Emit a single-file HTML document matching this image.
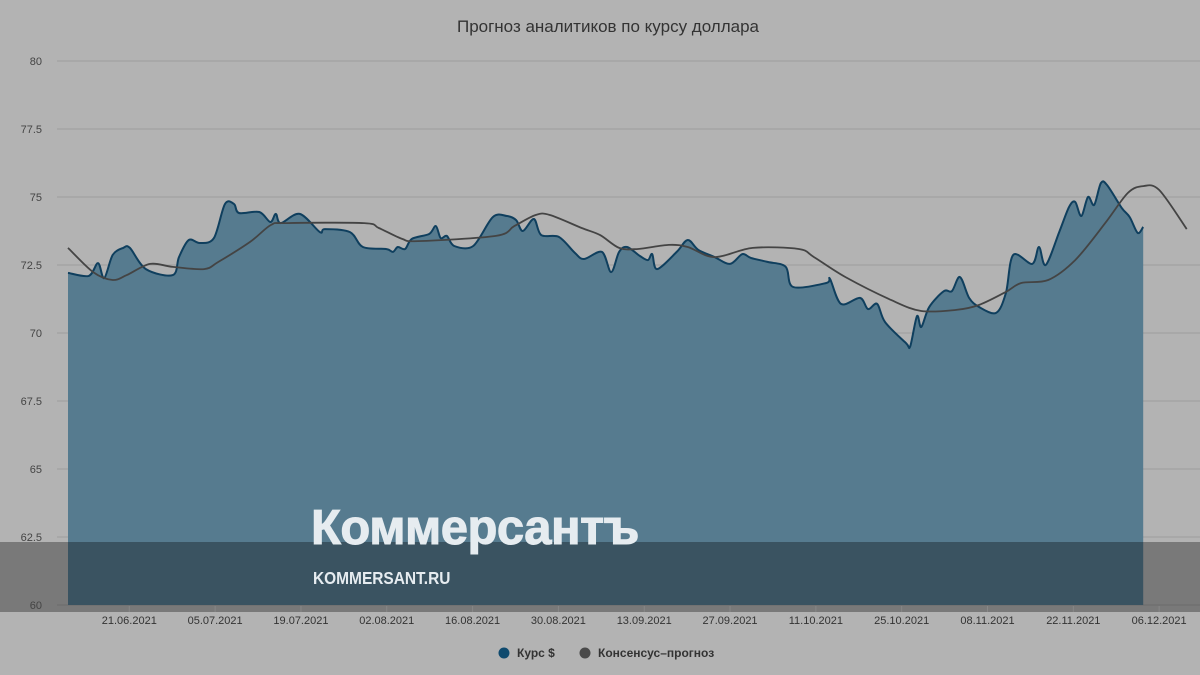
<!DOCTYPE html>
<html><head><meta charset="utf-8"><style>
html,body{margin:0;padding:0;background:#b3b3b3;}
svg{display:block;font-family:"Liberation Sans",sans-serif;}
</style></head><body>
<svg id="chart" width="1200" height="675" viewBox="0 0 1200 675">
<rect x="0" y="0" width="1200" height="675" fill="#b3b3b3"/>
<text x="608" y="32" text-anchor="middle" font-size="17" fill="#333">Прогноз аналитиков по курсу доллара</text>
<g id="grid"></g>
<g id="series"></g>
<g id="overlay">
<rect x="0" y="542" width="1200" height="70" fill="#000" fill-opacity="0.32"/>
<text x="311" y="544" font-size="49" font-weight="bold" fill="#e6ecf0" letter-spacing="-0.5" stroke="#e6ecf0" stroke-width="1">Коммерсантъ</text>
<text x="313" y="584" font-size="18" font-weight="bold" fill="#e6ecf0" transform="translate(313,0) scale(0.86,1) translate(-313,0)">KOMMERSANT.RU</text>
</g>
<g id="axes"></g>
<g>
<circle cx="504" cy="653" r="5.5" fill="#0f4a6e"/>
<text x="517" y="657" font-size="12" font-weight="bold" fill="#333">Курс $</text>
<circle cx="585" cy="653" r="5.5" fill="#4a4a4a"/>
<text x="598" y="657" font-size="12" font-weight="bold" fill="#333">Консенсус–прогноз</text>
</g>
</svg>
<script>
const yTicks = [60, 62.5, 65, 67.5, 70, 72.5, 75, 77.5, 80];
const xTickLabels = ["21.06.2021","05.07.2021","19.07.2021","02.08.2021","16.08.2021","30.08.2021","13.09.2021","27.09.2021","11.10.2021","25.10.2021","08.11.2021","22.11.2021","06.12.2021"];
const xTickDays = [10,24,38,52,66,80,94,108,122,136,150,164,178];
const rateDays = [0,3.4,4.9,5.9,7.3,9.0,10.1,12.7,17.1,18.1,19.7,21.5,23.8,25.6,27.1,27.9,31.2,33.0,33.9,34.7,37.8,41.1,41.9,46.0,48.1,51.9,53.0,53.8,55.0,56.1,58.9,60.0,60.8,61.8,63.0,66.1,69.3,71.6,73.1,74.2,76.0,77.2,80.1,82.7,84.2,87.1,88.6,89.9,91.2,93.3,94.6,95.3,96.1,99.3,101.1,102.8,105.5,108.0,110.0,111.4,114.2,117.1,118.3,123.7,124.3,126.1,129.2,130.5,132.0,133.3,136.7,137.4,138.5,139.2,140.5,142.9,144.2,145.5,147.0,148.6,151.4,153.0,154.2,157.3,158.4,159.5,161.7,163.3,164.3,165.3,166.4,167.4,168.5,169.5,171.9,173.2,174.5,175.4];
const rateValues = [72.21,72.10,72.57,72.02,72.87,73.13,73.13,72.35,72.13,72.79,73.42,73.31,73.49,74.74,74.74,74.41,74.45,74.08,74.38,74.04,74.38,73.71,73.82,73.71,73.16,73.09,72.98,73.16,73.09,73.46,73.64,73.93,73.49,73.57,73.20,73.20,74.26,74.30,74.15,73.75,74.19,73.60,73.53,72.94,72.72,72.98,72.24,72.98,73.16,72.83,72.68,72.90,72.35,72.98,73.42,73.06,72.79,72.54,72.90,72.76,72.61,72.43,71.69,71.84,71.99,71.07,71.29,70.88,71.07,70.40,69.63,69.52,70.62,70.22,70.96,71.54,71.54,72.06,71.29,70.96,70.74,71.47,72.87,72.54,73.16,72.50,73.71,74.63,74.82,74.30,75.00,74.71,75.51,75.44,74.60,74.26,73.68,73.90];
const forecastDays = [0,4.1,7.3,9.6,13.4,17.1,22.2,24.5,29.7,33.1,35.6,48.3,50.7,54.5,57.1,69.8,72.8,76.3,78.6,83.8,86.8,89.9,93.0,98.0,101.1,105.5,111.7,119.2,121.7,126.8,134.3,139.2,144.9,148.6,153.0,155.5,159.9,164.3,169.2,172.9,175.4,178.0,182.5];
const forecastValues = [73.13,72.24,71.95,72.13,72.54,72.43,72.35,72.61,73.35,73.97,74.04,74.04,73.86,73.46,73.38,73.57,73.93,74.34,74.34,73.86,73.60,73.13,73.09,73.24,73.16,72.79,73.13,73.09,72.79,72.06,71.21,70.81,70.85,71.03,71.51,71.84,71.95,72.68,74.04,75.15,75.40,75.26,73.82];

const NS="http://www.w3.org/2000/svg";
const xS = d => 68 + d*6.13;
const yS = v => 605 - (v-60)*27.2;
function mk(tag, attrs, parent){const e=document.createElementNS(NS,tag);for(const k in attrs)e.setAttribute(k,attrs[k]);parent.appendChild(e);return e;}
function smooth(pts){
  let d=`M${pts[0][0]},${pts[0][1]}`;
  for(let i=0;i<pts.length-1;i++){
    const p0=pts[i-1]||pts[i],p1=pts[i],p2=pts[i+1],p3=pts[i+2]||p2;
    const t=0.16;
    const c1=[p1[0]+(p2[0]-p0[0])*t,p1[1]+(p2[1]-p0[1])*t];
    const c2=[p2[0]-(p3[0]-p1[0])*t,p2[1]-(p3[1]-p1[1])*t];
    d+=` C${c1[0].toFixed(1)},${c1[1].toFixed(1)} ${c2[0].toFixed(1)},${c2[1].toFixed(1)} ${p2[0].toFixed(1)},${p2[1].toFixed(1)}`;
  }
  return d;
}
const grid=document.getElementById('grid'),axes=document.getElementById('axes'),series=document.getElementById('series');
yTicks.forEach(v=>{
  const gl=mk('line',{x1:57,x2:1200,y1:yS(v),y2:yS(v),stroke:'#9c9c9c','stroke-width':1},grid);
  
  
  const t=mk('text',{x:42,y:yS(v)+4,'text-anchor':'end','font-size':11,fill:'#444'},axes);
  t.textContent=String(v);
  
  
});
xTickLabels.forEach((lab,i)=>{
  const x=xS(xTickDays[i]);
  const tk=mk('line',{x1:x,x2:x,y1:606,y2:612,stroke:'#888'},axes);
  
  
  const t=mk('text',{x:x,y:624,'text-anchor':'middle','font-size':11,fill:'#333'},axes);
  t.textContent=lab;
  
  
});
const rp=rateDays.map((d,i)=>[xS(d),yS(rateValues[i])]);
const lineD=smooth(rp);
const last=rp[rp.length-1];
const area=mk('path',{d:lineD+` L${last[0]},605 L${rp[0][0]},605 Z`,fill:'#567b8f'},series);


const rl=mk('path',{d:lineD,fill:'none',stroke:'#0f3f5e','stroke-width':2},series);


const fp=forecastDays.map((d,i)=>[xS(d),yS(forecastValues[i])]);
const fl=mk('path',{d:smooth(fp),fill:'none',stroke:'#444','stroke-width':1.8},series);


</script>
</body></html>
